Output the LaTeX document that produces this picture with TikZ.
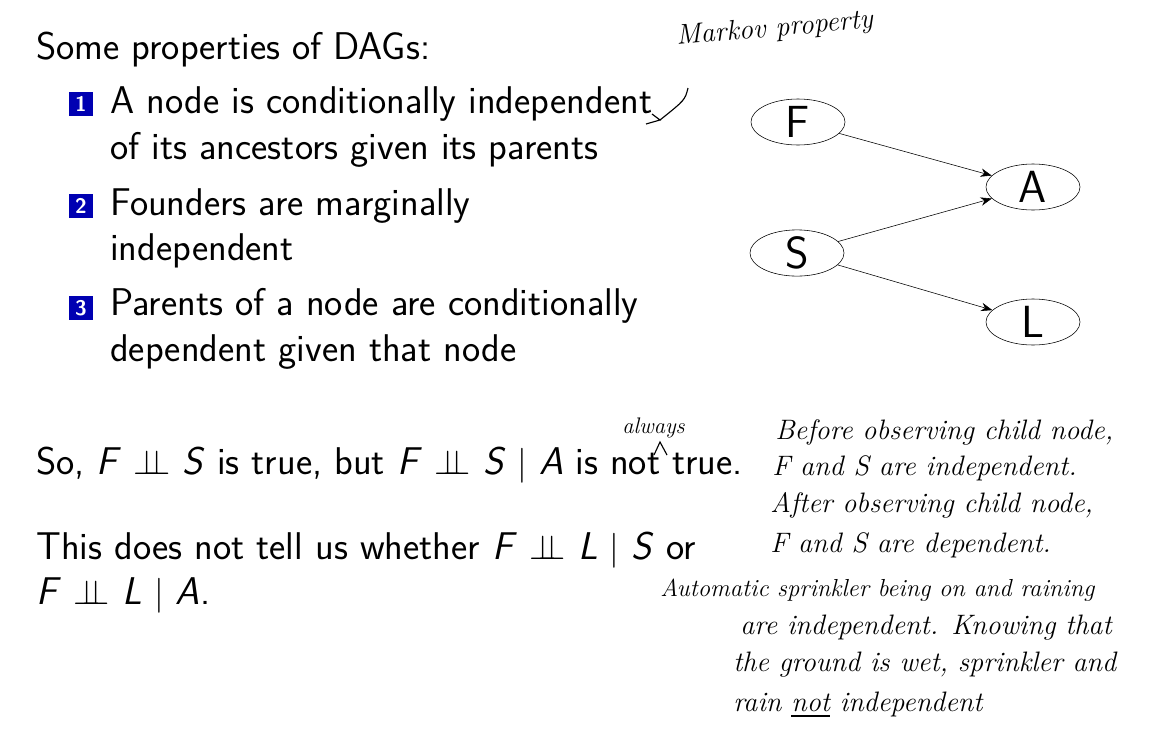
\documentclass[tikz,border=0pt]{standalone}
\usepackage{amssymb}
\usetikzlibrary{shapes.geometric,arrows.meta}
\newcommand{\vv}[1]{\textsf{\textit{#1}}}
\newcommand{\ci}{\ensuremath{\perp\!\!\!\perp}}
\begin{document}
\begin{tikzpicture}[x=0.025cm,y=-0.025cm,
  txt/.style={anchor=west,font=\sffamily\fontsize{27.5}{32}\selectfont,inner sep=0},
  hand/.style={anchor=west,font=\itshape\fontsize{20}{24}\selectfont,inner sep=0},
  num/.style={fill=blue!70!black,text=white,font=\sffamily\bfseries\fontsize{15}{16}\selectfont,minimum size=17pt,inner sep=0},
  gn/.style={draw,ellipse,minimum width=2.35cm,minimum height=1.15cm,font=\sffamily\fontsize{32}{34}\selectfont,inner sep=0},
  ed/.style={-{Stealth[length=8pt]},thin}]
\path[use as bounding box] (0,0) rectangle (1160,738);
\node[txt] (t0) at (36,50) {Some properties of DAGs:};
\node[num] (n1) at (81,104) {1};
\node[txt] (i1) at (110,104) {A node is conditionally independent};
\node[txt] (i1b) at (110,150) {of its ancestors given its parents};
\node[num] (n2) at (81,206) {2};
\node[txt] (i2) at (110,206) {Founders are marginally};
\node[txt] (i2b) at (110,251) {independent};
\node[num] (n3) at (81,308) {3};
\node[txt] (i3) at (110,306) {Parents of a node are conditionally};
\node[txt] (i3b) at (110,352) {dependent given that node};
\node[txt] (s1) at (36,465) {So, \vv{F} \ci\ \vv{S} is true, but \vv{F} \ci\ \vv{S} $|$ \vv{A} is not true.};
\node[txt] (s2) at (36,550) {This does not tell us whether \vv{F} \ci\ \vv{L} $|$ \vv{S} or};
\node[txt] (s3) at (36,595) {\vv{F} \ci\ \vv{L} $|$ \vv{A}.};
\node[gn] (F) at (798,122) {F};
\node[gn] (A) at (1033,187) {A};
\node[gn] (S) at (797,253) {S};
\node[gn] (L) at (1033,322) {L};
\draw[ed] (F) -- (A);
\draw[ed] (S) -- (A);
\draw[ed] (S) -- (L);
\node[hand,rotate=5] (mk) at (676,38) {Markov property};
\coordinate (m1) at (688,88);
\coordinate (m2) at (660,120);
\draw[thick] (m1) .. controls (685,100) .. (m2);
\draw[thick] (m2) ++(-8,-6) -- (m2) -- ++(-14,4);
\node[hand,font=\itshape\fontsize{16}{18}\selectfont] (al) at (622,428) {always};
\draw[thick] (654,455) -- (660,442) -- (667,455);
\node[hand] (b1) at (775,432) {Before observing child node,};
\node[hand] (b2) at (772,468) {F and S are independent.};
\node[hand] (b3) at (770,505) {After observing child node,};
\node[hand] (b4) at (770,545) {F and S are dependent.};
\node[hand,font=\itshape\fontsize{17.5}{20}\selectfont] (b5) at (660,590) {Automatic sprinkler being on and raining};
\node[hand] (b6) at (740,628) {are independent. Knowing that};
\node[hand] (b7) at (733,665) {the ground is wet, sprinkler and};
\node[hand] (b8) at (733,705) {rain \underline{not} independent};
\end{tikzpicture}
\end{document}
